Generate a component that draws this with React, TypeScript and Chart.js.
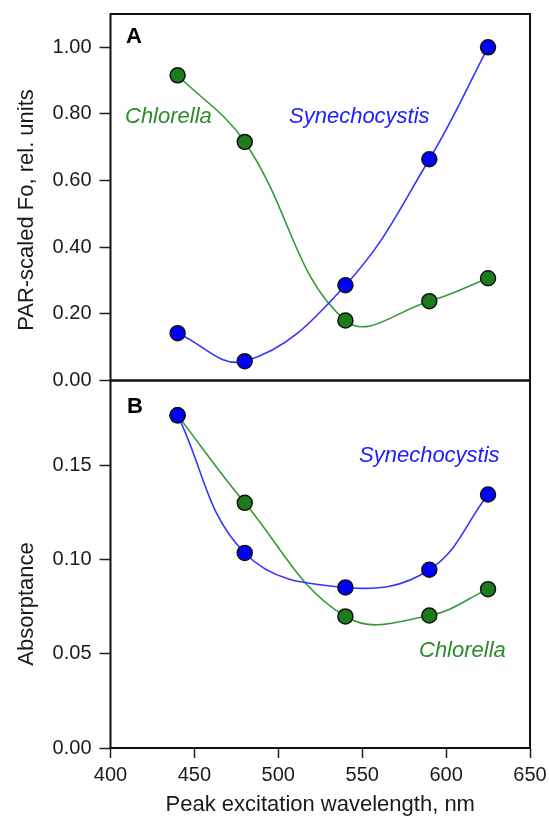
import React, { useEffect, useRef } from 'react';
import { Chart, registerables } from 'chart.js';

Chart.register(...registerables);

const wavelengths = [440, 480, 540, 590, 625];
const foSynechocystis = [0.142, 0.058, 0.286, 0.664, 1.0];
const foChlorella = [0.916, 0.716, 0.18, 0.238, 0.307];
const absSynechocystis = [0.1765, 0.1035, 0.0852, 0.0946, 0.1345];
const absChlorella = [0.1765, 0.1301, 0.0698, 0.0703, 0.0843];
const xTicks = [400, 450, 500, 550, 600, 650];
const foTicks = [0, 0.2, 0.4, 0.6, 0.8, 1.0];
const absTicks = [0, 0.05, 0.1, 0.15];

const FONT = '"Liberation Sans", Arial, sans-serif';
const BLUE_LINE = '#3535ff';
const BLUE_PT = '#0000ff';
const GREEN_LINE = '#349a34';
const GREEN_PT = '#1c7c1c';
const BLUE_TXT = '#2020ff';
const GREEN_TXT = '#2a8c2a';
const AXIS = '#1a1a1a';

type Txt = { text: string; x: number; y: number; font: string; color: string; rotate?: boolean };

const makeOverlay = (texts: Txt[]) => ({
  id: 'overlay',
  beforeDatasetsDraw(chart: any) {
    const { ctx, chartArea: a } = chart;
    ctx.save();
    ctx.strokeStyle = '#111';
    ctx.lineWidth = 2;
    ctx.strokeRect(a.left, a.top, a.right - a.left, a.bottom - a.top);
    ctx.restore();
  },
  afterDraw(chart: any) {
    const { ctx } = chart;
    texts.forEach((t) => {
      ctx.save();
      ctx.font = t.font;
      ctx.fillStyle = t.color;
      ctx.textBaseline = 'alphabetic';
      if (t.rotate) {
        ctx.translate(t.x, t.y);
        ctx.rotate(-Math.PI / 2);
        ctx.textAlign = 'center';
        ctx.fillText(t.text, 0, 0);
      } else {
        ctx.textAlign = 'left';
        ctx.fillText(t.text, t.x, t.y);
      }
      ctx.restore();
    });
  },
});

const ds = (label: string, data: number[], line: string, pt: string) => ({
  label,
  data: wavelengths.map((x, i) => ({ x, y: data[i] })),
  borderColor: line,
  borderWidth: 1.6,
  backgroundColor: pt,
  pointBackgroundColor: pt,
  pointBorderColor: '#111',
  pointBorderWidth: 1.5,
  pointRadius: 7.5,
  tension: 0.4,
  fill: false,
});

const yScale = (max: number, ticks: number[]) => ({
  type: 'linear',
  min: 0,
  max,
  afterFit: (s: any) => {
    s.width = 110.5;
    s.paddingTop = 0;
    s.paddingBottom = 0;
  },
  afterBuildTicks: (s: any) => {
    s.ticks = ticks.map((v) => ({ value: v }));
  },
  ticks: {
    callback: (v: any) => Number(v).toFixed(2),
    font: { family: FONT, size: 20 },
    color: AXIS,
    padding: 8,
  },
  grid: {
    display: true,
    drawOnChartArea: false,
    drawTicks: true,
    tickLength: 11,
    tickColor: '#222',
    tickWidth: 1.5,
  },
  border: { display: false },
});

export default function App() {
  const refA = useRef<HTMLCanvasElement>(null);
  const refB = useRef<HTMLCanvasElement>(null);

  useEffect(() => {
    Chart.defaults.font.family = FONT;
    const offB = 370;
    const chartA = new Chart(refA.current as HTMLCanvasElement, {
      type: 'line',
      data: {
        datasets: [
          ds('Synechocystis', foSynechocystis, BLUE_LINE, BLUE_PT),
          ds('Chlorella', foChlorella, GREEN_LINE, GREEN_PT),
        ],
      },
      options: {
        responsive: false,
        animation: false,
        layout: { padding: { left: 0, right: 19, top: 14, bottom: 14.5 } },
        plugins: { legend: { display: false }, tooltip: { enabled: false } },
        scales: {
          x: { type: 'linear', display: false, min: 400, max: 650 },
          y: yScale(1.1, foTicks),
        },
      } as any,
      plugins: [
        makeOverlay([
          { text: 'A', x: 126, y: 43, font: `bold 22px ${FONT}`, color: '#000' },
          { text: 'Chlorella', x: 125, y: 123, font: `italic 22px ${FONT}`, color: GREEN_TXT },
          { text: 'Synechocystis', x: 289, y: 123, font: `italic 22px ${FONT}`, color: BLUE_TXT },
          { text: 'PAR-scaled Fo, rel. units', x: 33, y: 210, font: `22px ${FONT}`, color: AXIS, rotate: true },
        ]),
      ],
    });

    const chartB = new Chart(refB.current as HTMLCanvasElement, {
      type: 'line',
      data: {
        datasets: [
          ds('Synechocystis', absSynechocystis, BLUE_LINE, BLUE_PT),
          ds('Chlorella', absChlorella, GREEN_LINE, GREEN_PT),
        ],
      },
      options: {
        responsive: false,
        animation: false,
        layout: { padding: { left: 0, right: 19, top: 10.5, bottom: 0 } },
        plugins: { legend: { display: false }, tooltip: { enabled: false } },
        scales: {
          x: {
            type: 'linear',
            min: 400,
            max: 650,
            afterFit: (s: any) => {
              s.height = 72;
              s.paddingLeft = 0;
              s.paddingRight = 0;
            },
            afterBuildTicks: (s: any) => {
              s.ticks = xTicks.map((v) => ({ value: v }));
            },
            ticks: {
              callback: (v: any) => String(v),
              font: { family: FONT, size: 20 },
              color: AXIS,
              padding: 5,
              autoSkip: false,
              maxRotation: 0,
            },
            grid: {
              display: true,
              drawOnChartArea: false,
              drawTicks: true,
              tickLength: 10,
              tickColor: '#222',
              tickWidth: 1.5,
            },
            border: { display: false },
            title: {
              display: true,
              text: 'Peak excitation wavelength, nm',
              font: { family: FONT, size: 22 },
              color: AXIS,
              padding: { top: 0, bottom: 2 },
            },
          },
          y: yScale(0.195, absTicks),
        },
      } as any,
      plugins: [
        makeOverlay([
          { text: 'B', x: 127, y: 413 - offB, font: `bold 22px ${FONT}`, color: '#000' },
          { text: 'Synechocystis', x: 359, y: 462 - offB, font: `italic 22px ${FONT}`, color: BLUE_TXT },
          { text: 'Chlorella', x: 419, y: 657 - offB, font: `italic 22px ${FONT}`, color: GREEN_TXT },
          { text: 'Absorptance', x: 33, y: 604 - offB, font: `22px ${FONT}`, color: AXIS, rotate: true },
        ]),
      ],
    });

    return () => {
      chartA.destroy();
      chartB.destroy();
    };
  }, []);

  return (
    <div style={{ position: 'fixed', left: 0, top: 0, width: 549, height: 820, background: '#fff' }}>
      <canvas ref={refA} width={549} height={395} style={{ position: 'absolute', left: 0, top: 0 }} />
      <canvas ref={refB} width={549} height={450} style={{ position: 'absolute', left: 0, top: 370 }} />
    </div>
  );
}
